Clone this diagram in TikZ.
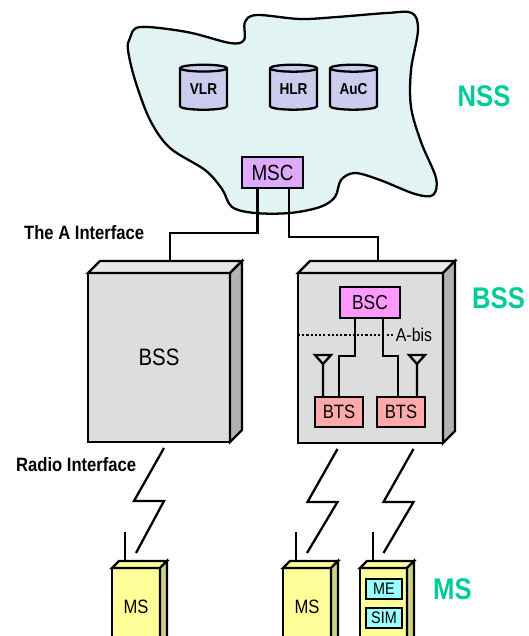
\documentclass[tikz,border=0pt]{standalone}
\usepackage{fontspec}
\setmainfont{Liberation Sans}[FakeStretch=0.86]
\usepackage{tikz}
\usetikzlibrary{shapes.geometric, positioning}

\definecolor{cloudfill}{RGB}{226,243,243}
\definecolor{dbfill}{RGB}{204,204,238}
\definecolor{mscfill}{RGB}{221,170,255}
\definecolor{bscfill}{RGB}{255,153,255}
\definecolor{btsfill}{RGB}{255,170,170}
\definecolor{boxfront}{RGB}{221,221,221}
\definecolor{boxtop}{RGB}{232,232,232}
\definecolor{boxside}{RGB}{178,178,178}
\definecolor{msfront}{RGB}{255,255,153}
\definecolor{msside}{RGB}{208,208,136}
\definecolor{simfill}{RGB}{153,255,255}
\definecolor{taggreen}{RGB}{0,204,153}

\begin{document}
\begin{tikzpicture}[x=0.02cm, y=-0.02cm, line width=1.3pt,
        unit/.style={rectangle, draw, outer sep=0pt, inner sep=0pt, font=\fontsize{11}{13}\selectfont},
        db/.style={cylinder, shape border rotate=90, aspect=0.25, draw, fill=dbfill, minimum width=0.94cm, minimum height=0.9cm, inner sep=0pt, font=\bfseries\fontsize{9}{11}\selectfont},
        box/.style={rectangle, draw, fill=boxfront, outer sep=0pt},
        phone/.style={rectangle, draw, fill=msfront, outer sep=0pt, minimum width=0.96cm, minimum height=1.54cm, font=\fontsize{11}{13}\selectfont},
        tag/.style={text=taggreen, font=\bfseries\fontsize{17}{20}\selectfont},
        iface/.style={anchor=west, inner sep=0pt, font=\bfseries\fontsize{11}{13}\selectfont}]
    \useasboundingbox (0,0) rectangle (528,636);
    \clip (0,0) rectangle (528,636);

    \draw[fill=cloudfill] plot[smooth cycle, tension=0.55] coordinates {(130,38) (140,27) (187,32) (230,43) (244,40) (245,22) (257,15) (300,19) (337,17) (387,13) (412,13) (418,30) (411,70) (411,107) (421,142) (436,178) (433,195) (415,194) (380,180) (355,173) (341,180) (335,197) (320,207) (290,213) (255,213) (232,207) (222,189) (205,170) (170,148) (150,120) (135,80) (128,50)};

    \node[db] (vlr) at (203.5,89.5) {VLR};
    \node[db] (hlr) at (293.5,89.5) {HLR};
    \node[db] (auc) at (353.5,89.5) {AuC};
    \node[unit, fill=mscfill, minimum width=1.22cm, minimum height=0.62cm, font=\fontsize{12.5}{14}\selectfont] (msc) at (272.5,172.5) {MSC};
    \node[tag] (nss) at (484,96) {NSS};

    \node[box, minimum width=2.84cm, minimum height=3.38cm, font=\fontsize{13.5}{15}\selectfont] (bssl) at (159,357.5) {BSS};
    \node[box, minimum width=2.9cm, minimum height=3.4cm] (bssr) at (370.5,358) {};
    \node[tag] (bsstag) at (498.5,298) {BSS};

    \node[phone] (ms1) at (136,606.5) {MS};
    \node[phone] (ms2) at (307,606.5) {MS};
    \node[phone, minimum width=0.94cm] (ms3) at (383.5,606.5) {};
    \node[tag] (mstag) at (452.5,589) {MS};

    \foreach \n/\d/\t/\s in {bssl/12/boxtop/boxside, bssr/12/boxtop/boxside, ms1/7/msfront/msside, ms2/7/msfront/msside, ms3/7/msfront/msside} {
        \draw[fill=\t] (\n.north west) -- ([shift={(\d,-\d)}]\n.north west) -- ([shift={(\d,-\d)}]\n.north east) -- (\n.north east) -- cycle;
        \draw[fill=\s] (\n.north east) -- ([shift={(\d,-\d)}]\n.north east) -- ([shift={(\d,-\d)}]\n.south east) -- (\n.south east) -- cycle;
    }

    \node[unit, fill=bscfill, minimum width=1.2cm, minimum height=0.62cm, font=\fontsize{11.5}{13}\selectfont] (bsc) at (370,302.5) {BSC};
    \node[unit, fill=btsfill, minimum width=0.96cm, minimum height=0.6cm] (bts1) at (339,412) {BTS};
    \node[unit, fill=btsfill, minimum width=0.96cm, minimum height=0.6cm] (bts2) at (401,412) {BTS};
    \node[unit, fill=simfill, minimum width=0.72cm, minimum height=0.4cm, font=\fontsize{9.5}{11}\selectfont] (me) at (384,589) {ME};
    \node[unit, fill=simfill, minimum width=0.72cm, minimum height=0.4cm, font=\fontsize{9.5}{11}\selectfont, below=0.18cm of me] (sim) {SIM};

    \draw ([xshift=-0.3cm]msc.south) -- ++(0,45) -| ([shift={(11,-11)}]bssl.north);
    \draw ([xshift=0.33cm]msc.south) -- ++(0,49) -| ([shift={(7.5,-12)}]bssr.north);
    \draw ([xshift=-0.3cm]bsc.south) -- ++(0,38) -| (bts1.north);
    \draw ([xshift=0.26cm]bsc.south) -- ++(0,38) -| ([xshift=-0.06cm]bts2.north);
    \draw[dash pattern=on 1.2pt off 1.2pt] ([yshift=0.46cm]bssr.west) -- ++(95,0) node[right, inner sep=1pt, font=\fontsize{10.5}{12}\selectfont] (abis) {A-bis};

    \foreach \b/\s in {bts1/-16, bts2/16}
        \draw[line join=miter] ([shift={(\s,0)}]\b.north) -- ++(0,-33) -- ++(-8,-9) -- ++(16,0) -- ++(-8,9);

    \foreach \a/\s/\m in {bssl/5/ms1, bssr/-33/ms2, bssr/43/ms3}
        \draw[line join=miter] ([shift={(\s,6)}]\a.south) -- ++(-30,53) -- ++(30,0) -- ([yshift=0.3cm]\m.north);

    \foreach \m in {ms1, ms2, ms3}
        \draw ([shift={(13,-7)}]\m.north west) -- ++(0,-29);

    \node[iface] (aif) at (23,233) {The A Interface};
    \node[iface] (rif) at (15,465) {Radio Interface};
\end{tikzpicture}
\end{document}
